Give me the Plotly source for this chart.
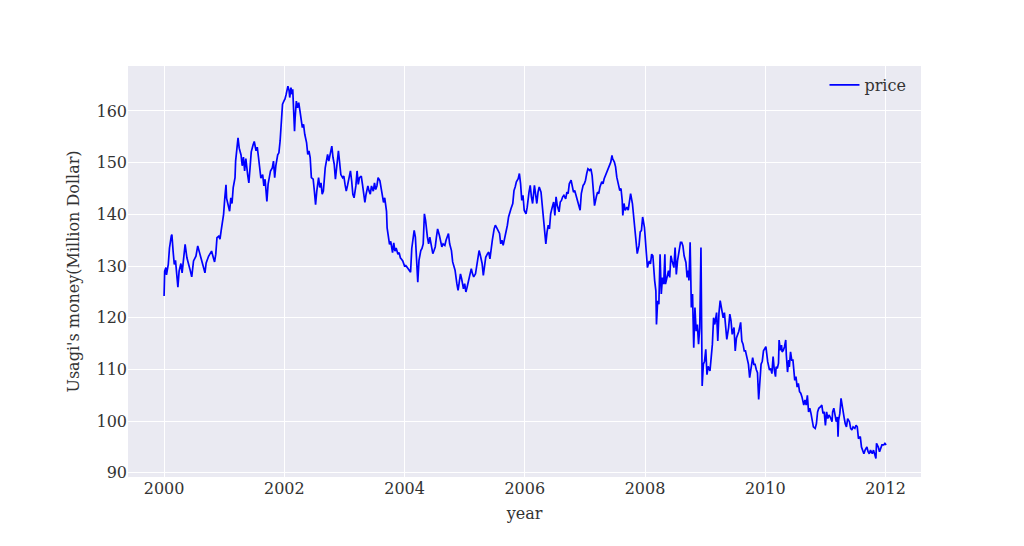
import plotly.graph_objects as go

years = [
 2000.00,2000.01,2000.03,2000.04,2000.07,2000.09,2000.12,2000.13,2000.15,2000.17,2000.19,2000.21,2000.23,2000.25,2000.28,2000.30,2000.33,2000.35,2000.38,2000.40,
 2000.43,2000.46,2000.49,2000.53,2000.56,2000.59,2000.62,2000.65,2000.68,2000.70,2000.74,2000.77,2000.79,2000.82,2000.84,2000.86,2000.88,2000.91,2000.93,2000.95,
 2000.97,2000.99,2001.01,2001.03,2001.04,2001.06,2001.09,2001.11,2001.13,2001.15,2001.18,2001.19,2001.21,2001.23,2001.25,2001.28,2001.30,2001.32,2001.34,2001.36,
 2001.39,2001.41,2001.43,2001.45,2001.48,2001.50,2001.53,2001.55,2001.57,2001.59,2001.61,2001.64,2001.66,2001.68,2001.71,2001.73,2001.75,2001.77,2001.80,2001.82,
 2001.84,2001.86,2001.89,2001.91,2001.93,2001.95,2001.97,2002.00,
 2002.01,2002.03,2002.06,2002.08,2002.09,2002.11,2002.13,2002.14,2002.17,2002.18,2002.20,2002.22,2002.24,2002.26,2002.28,2002.30,2002.32,2002.34,2002.37,2002.39,
 2002.41,2002.43,2002.45,2002.48,2002.50,2002.52,2002.54,2002.57,2002.59,2002.61,2002.63,2002.65,2002.68,2002.70,2002.72,2002.74,2002.77,2002.79,2002.81,2002.83,
 2002.85,2002.88,2002.90,2002.92,2002.94,2002.97,2002.99,2003.01,2003.03,2003.05,2003.08,2003.10,2003.12,2003.14,2003.16,2003.19,2003.21,2003.23,2003.25,2003.28,
 2003.30,2003.32,2003.34,2003.36,2003.39,2003.41,2003.43,2003.45,2003.48,2003.50,2003.52,2003.54,2003.56,2003.59,2003.61,2003.63,2003.65,2003.67,2003.70,2003.71,
 2003.73,2003.75,2003.77,2003.80,2003.82,2003.84,2003.86,2003.89,2003.91,2003.93,2003.95,2003.97,2004.00,
 2004.02,2004.04,2004.07,2004.10,2004.12,2004.14,2004.16,2004.18,2004.20,2004.22,2004.24,2004.27,2004.29,2004.31,2004.33,2004.35,2004.38,2004.40,2004.42,2004.44,
 2004.47,2004.49,2004.51,2004.53,2004.55,2004.58,2004.60,2004.62,2004.64,2004.67,2004.69,2004.71,2004.73,2004.75,2004.78,2004.80,2004.82,2004.84,2004.87,2004.89,
 2004.91,2004.93,2004.95,2004.98,2005.00,2005.02,2005.04,2005.07,2005.09,2005.11,2005.13,2005.15,2005.18,2005.20,2005.22,2005.24,2005.26,2005.29,2005.31,2005.33,
 2005.35,2005.38,2005.40,2005.42,2005.44,2005.46,2005.49,2005.51,2005.53,2005.55,2005.58,2005.60,2005.62,2005.64,2005.66,2005.69,2005.71,2005.73,2005.75,2005.77,
 2005.80,2005.82,2005.84,2005.86,2005.89,2005.91,2005.93,2005.95,2005.97,2005.99,
 2006.02,2006.04,2006.07,2006.09,2006.11,2006.13,2006.16,2006.18,2006.20,2006.22,2006.24,2006.27,2006.29,2006.31,2006.33,2006.35,2006.37,2006.39,2006.41,2006.43,
 2006.45,2006.48,2006.50,2006.52,2006.54,2006.57,2006.59,2006.61,2006.63,2006.65,2006.68,2006.70,2006.72,2006.74,2006.77,2006.79,2006.81,2006.83,2006.85,2006.88,
 2006.90,2006.92,2006.94,2006.97,2006.99,2007.01,2007.03,2007.05,2007.08,2007.10,2007.12,2007.14,2007.16,2007.19,2007.21,2007.23,2007.25,2007.28,2007.30,2007.32,
 2007.34,2007.36,2007.39,2007.41,2007.43,2007.45,2007.46,2007.49,2007.51,2007.53,2007.55,2007.58,2007.60,2007.62,2007.63,2007.65,2007.67,2007.70,2007.72,2007.74,
 2007.76,2007.79,2007.81,2007.83,2007.85,2007.87,2007.90,2007.92,2007.94,2007.96,2007.99,
 2008.02,2008.04,2008.07,2008.09,2008.11,2008.13,2008.16,2008.18,2008.19,2008.21,2008.23,2008.25,2008.27,2008.29,2008.31,2008.33,2008.34,2008.37,2008.39,2008.41,
 2008.43,2008.45,2008.48,2008.50,2008.52,2008.54,2008.57,2008.59,2008.61,2008.63,2008.65,2008.68,2008.70,2008.72,2008.73,2008.75,2008.77,2008.79,2008.81,2008.83,
 2008.85,2008.87,2008.89,2008.91,2008.93,2008.95,2008.97,2008.99,2009.01,2009.03,2009.05,2009.08,2009.10,2009.12,2009.14,2009.16,2009.19,2009.21,2009.23,2009.25,
 2009.28,2009.30,2009.32,2009.34,2009.36,2009.39,2009.41,2009.43,2009.45,2009.48,2009.50,2009.52,2009.54,2009.56,2009.59,2009.61,2009.63,2009.65,2009.67,2009.70,
 2009.72,2009.74,2009.76,2009.79,2009.81,2009.83,2009.85,2009.87,2009.89,2009.91,2009.93,2009.95,2009.97,
 2010.01,2010.03,2010.04,2010.07,2010.09,2010.11,2010.13,2010.15,2010.17,2010.18,2010.20,2010.22,2010.23,2010.25,2010.27,2010.28,2010.30,2010.32,2010.34,2010.35,
 2010.37,2010.39,2010.40,2010.42,2010.44,2010.46,2010.47,2010.49,2010.51,2010.53,2010.55,2010.57,2010.59,2010.61,2010.64,2010.66,2010.68,2010.70,2010.72,2010.74,
 2010.76,2010.78,2010.80,2010.83,2010.85,2010.87,2010.89,2010.92,2010.94,2010.96,2010.98,2011.00,2011.02,2011.04,2011.06,2011.08,2011.11,2011.12,2011.14,2011.16,
 2011.18,2011.20,2011.21,2011.22,2011.24,2011.26,2011.28,2011.31,2011.33,2011.35,2011.37,2011.40,2011.42,2011.44,2011.46,2011.49,2011.51,2011.53,2011.55,2011.58,
 2011.60,2011.62,2011.64,2011.66,2011.69,2011.71,2011.73,2011.75,2011.78,2011.80,2011.82,2011.84,2011.85,2011.88,2011.90,2011.92,2011.94,2011.97,2011.99,2012.01,
]

price = [
 124.2,129.0,129.7,128.3,130.3,133.5,135.8,136.1,132.9,130.3,131.1,128.7,125.9,129.0,130.5,128.7,132.4,134.2,131.6,130.5,
 129.4,127.9,131.0,131.9,133.9,132.6,131.0,130.0,128.7,130.6,131.9,132.6,132.9,131.6,130.8,132.3,135.5,135.8,135.2,136.9,
 138.2,140.0,143.2,145.7,143.1,141.9,140.6,143.2,142.1,145.2,147.1,150.3,152.6,154.8,152.8,151.5,149.4,151.1,148.4,150.8,
 147.7,146.1,149.0,152.1,153.4,154.1,152.3,153.0,151.1,148.5,147.0,147.7,145.5,146.8,142.5,145.8,147.2,148.4,149.0,150.3,
 147.1,149.5,151.5,151.9,154.2,157.4,161.3,162.1,
 162.3,163.2,164.8,163.9,162.6,164.5,163.2,164.2,156.1,158.7,161.9,160.6,161.6,160.0,158.1,156.8,157.4,155.5,153.9,151.6,
 152.3,151.0,147.1,146.8,144.5,141.9,144.5,147.1,145.2,146.1,143.9,144.5,149.0,150.6,151.6,150.3,152.6,153.2,151.0,149.7,
 146.8,150.0,152.3,150.0,147.7,147.1,147.4,145.8,144.5,145.5,147.1,148.4,146.5,143.9,143.2,145.5,148.4,145.8,147.1,147.4,
 145.8,143.5,142.3,143.9,145.5,144.5,143.9,145.5,144.5,146.1,144.8,145.5,147.1,146.5,144.8,143.5,142.3,143.2,140.6,137.4,
 135.8,134.2,134.8,132.6,134.5,132.9,133.5,132.3,132.6,131.6,131.3,131.0,130.0,
 130.1,129.8,129.2,128.8,133.4,135.0,136.9,135.6,130.5,126.9,131.1,133.0,133.4,134.3,140.1,138.8,135.6,134.3,135.6,134.0,
 132.4,133.0,133.7,135.6,137.2,135.9,135.0,133.7,134.3,134.0,135.0,135.6,136.3,134.3,133.0,130.8,129.8,129.2,126.6,125.3,
 126.9,128.5,127.5,125.6,126.6,125.0,125.9,127.5,128.8,129.5,128.5,127.9,128.5,130.1,131.7,133.0,132.1,130.5,128.2,129.8,
 131.7,132.4,132.7,131.4,133.7,135.0,137.2,137.9,137.5,136.9,136.3,134.3,135.0,134.0,135.0,136.6,137.9,139.5,140.1,141.1,
 142.1,144.6,145.3,146.3,146.9,147.9,145.9,142.7,143.7,140.8,
 140.1,141.4,144.3,145.6,143.4,142.1,145.6,144.0,142.1,144.3,145.3,144.3,142.1,139.2,136.9,134.3,136.6,137.9,137.2,140.1,
 141.1,142.4,139.8,143.4,141.7,140.5,142.4,142.7,143.4,143.7,143.0,144.3,144.0,145.9,146.6,145.6,144.3,144.6,143.7,142.4,
 141.4,140.8,144.0,145.6,145.9,146.6,147.9,148.8,148.5,148.8,147.5,145.0,141.7,143.4,144.3,144.0,145.3,146.3,145.9,146.9,
 147.5,148.2,148.8,149.5,150.1,151.4,150.8,150.1,149.2,147.2,145.9,144.6,145.0,142.7,139.8,142.1,140.8,141.4,140.8,143.0,
 144.0,142.1,139.5,137.9,135.0,132.4,134.0,136.6,136.9,139.5,137.5,
 132.3,129.7,131.0,130.4,132.3,132.0,127.2,125.2,118.7,123.3,122.6,132.3,124.6,127.8,126.5,132.3,126.5,127.8,129.1,127.8,
 132.0,131.0,129.7,133.6,128.4,131.0,133.0,134.6,134.6,133.9,132.0,130.7,127.8,129.1,127.2,134.6,122.0,124.6,114.2,122.0,
 117.4,118.7,114.9,118.1,133.6,106.8,111.0,111.6,113.9,109.0,110.6,109.7,112.3,114.9,120.0,118.7,121.0,115.5,121.0,123.3,
 121.3,120.0,121.0,118.1,115.8,118.1,120.7,119.4,116.8,118.1,113.6,116.1,116.8,117.4,119.1,115.5,114.9,113.6,113.6,111.9,
 111.0,108.4,110.0,112.3,111.0,111.0,110.0,109.4,104.2,108.4,111.0,111.6,113.6,
 114.4,112.1,111.5,109.9,110.2,109.2,112.5,109.9,108.6,110.5,110.2,111.2,115.7,113.7,114.7,113.4,113.7,114.4,115.7,112.8,
 109.5,111.8,110.5,113.4,111.8,111.8,110.5,107.9,108.6,106.6,107.3,105.7,105.4,104.7,103.1,104.1,103.1,105.0,101.8,102.5,
 101.5,99.9,98.9,98.6,99.5,101.8,102.5,102.8,103.1,101.5,101.8,99.2,101.8,100.5,101.2,100.8,99.9,101.8,102.5,101.2,
 99.9,100.8,97.0,100.2,101.5,104.4,102.5,100.8,99.5,98.9,100.5,99.9,98.6,98.3,98.9,98.6,99.2,98.9,96.6,97.0,
 95.0,94.1,93.7,94.4,95.0,94.1,93.7,94.4,93.7,94.4,93.4,92.8,95.7,95.0,94.1,94.7,95.4,95.4,95.7,95.4,
]

x_ticks = [2000, 2002, 2004, 2006, 2008, 2010, 2012]
y_ticks = [90, 100, 110, 120, 130, 140, 150, 160]

fig = go.Figure()
fig.add_trace(go.Scatter(x=years, y=price, mode="lines", name="price",
                         line=dict(color="#0000FF", width=1.7)))

font_family = "DejaVu Serif"
fig.update_layout(
    width=1024, height=546,
    margin=dict(l=120, r=111, t=58, b=77),
    paper_bgcolor="white",
    plot_bgcolor="#EAEAF2",
    font=dict(family=font_family, size=16, color="#333333"),
    showlegend=True,
    legend=dict(x=0.988, y=0.995, xanchor="right", yanchor="top",
                bgcolor="rgba(0,0,0,0)", font=dict(size=16, color="#333333")),
    xaxis=dict(range=[1999.40, 2012.59], tickvals=x_ticks,
               ticktext=[str(t) for t in x_ticks],
               showgrid=True, gridcolor="white", gridwidth=1, zeroline=False,
               showline=False, ticks="", tickfont=dict(size=16),
               title=dict(text="year", font=dict(size=16), standoff=10)),
    yaxis=dict(range=[89.2, 168.7], tickvals=y_ticks,
               showgrid=True, gridcolor="white", gridwidth=1, zeroline=False,
               showline=False, ticks="", tickfont=dict(size=16),
               title=dict(text="Usagi's money(Million Dollar)", font=dict(size=16), standoff=12)),
)

fig.write_html("out.html")
